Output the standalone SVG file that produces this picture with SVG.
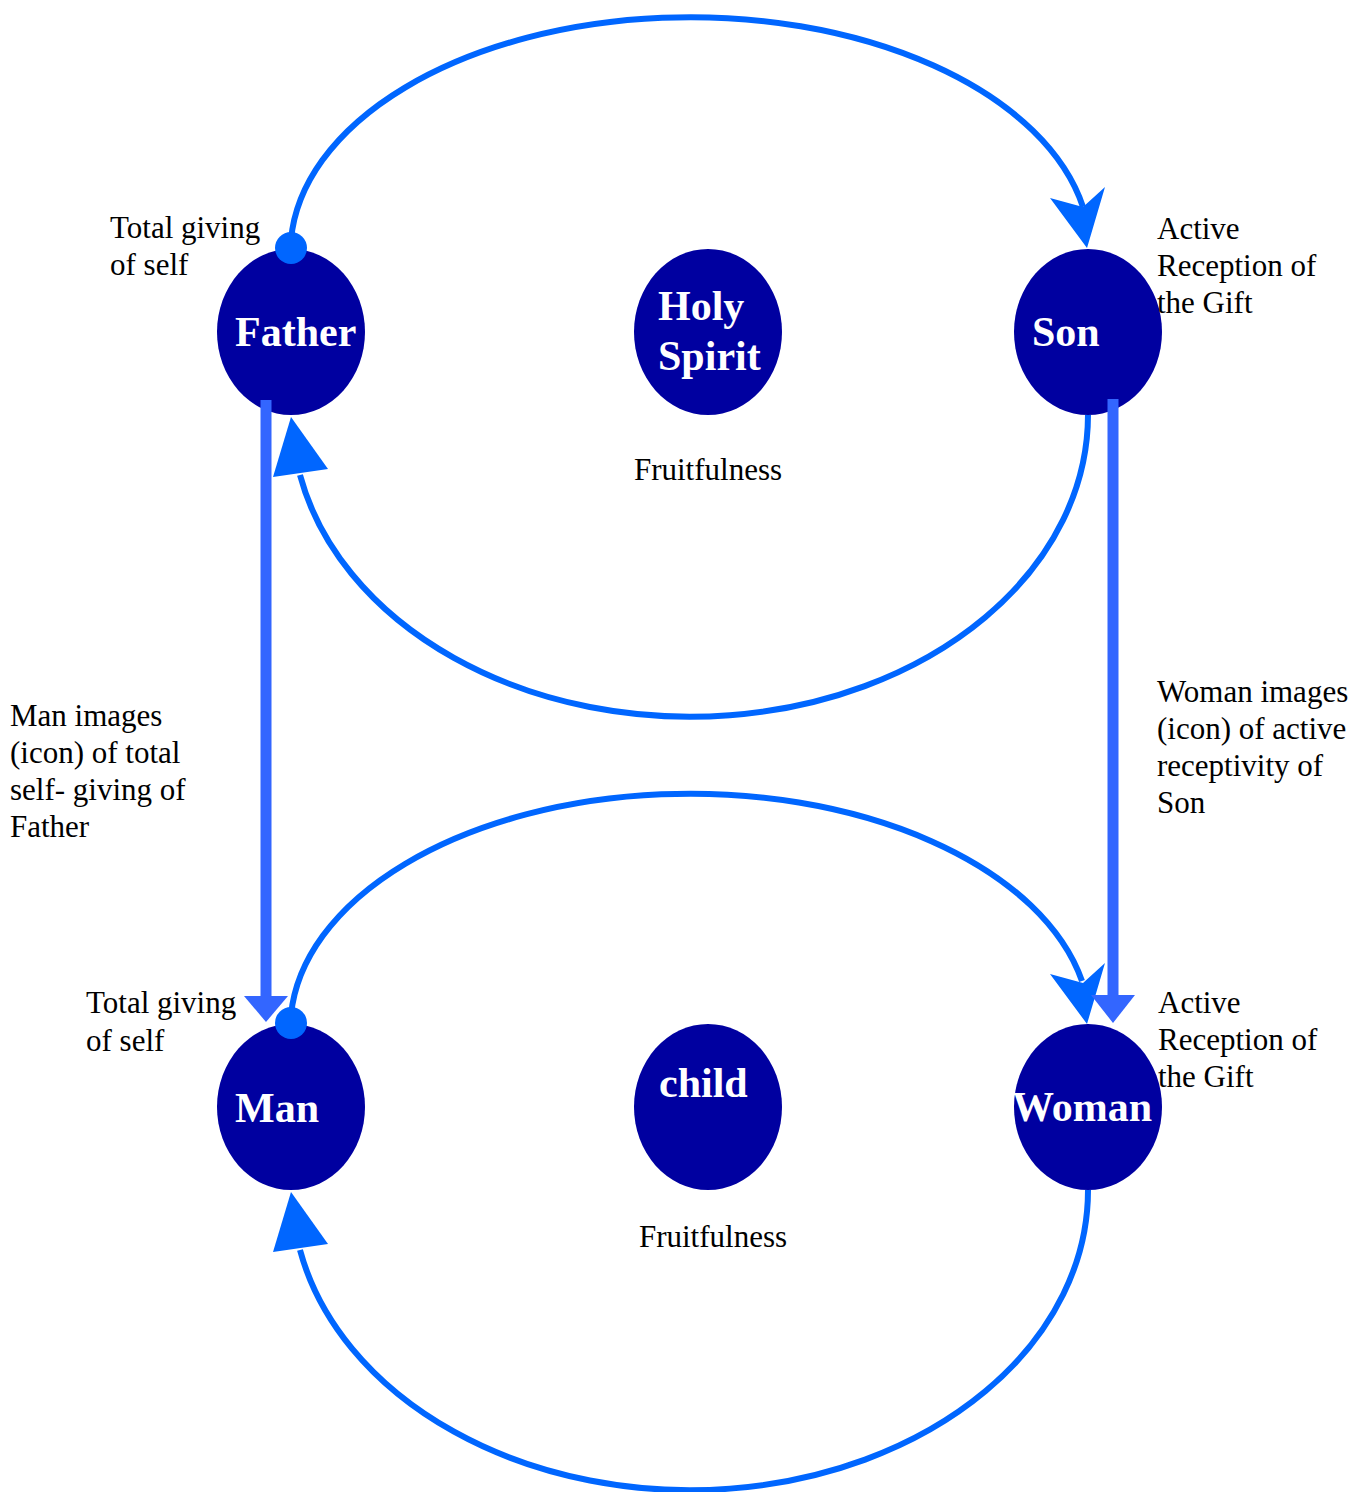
<svg xmlns="http://www.w3.org/2000/svg" width="1369" height="1492" viewBox="0 0 1369 1492">
<style>
.node{fill:#0000a0;stroke:none}
.nl{font-family:"Liberation Serif","Times New Roman",serif;font-weight:bold;font-size:42px;fill:#ffffff}
.lbl{font-family:"Liberation Serif","Times New Roman",serif;font-size:31px;fill:#000000}
.loop{fill:none;stroke:#0066ff;stroke-width:6}
.loophead{fill:#0066ff;stroke:none}
.img{fill:none;stroke:#3366ff;stroke-width:11}
.imghead{fill:#3366ff;stroke:none}
</style>
<rect width="1369" height="1492" fill="#ffffff"/>
<g id="father"><ellipse class="node" cx="291" cy="332" rx="74" ry="83"/><text class="nl" x="235" y="346">Father</text></g>
<g id="holyspirit"><ellipse class="node" cx="708" cy="332" rx="74" ry="83"/><text class="nl" x="658" y="320">Holy</text><text class="nl" x="658" y="370">Spirit</text></g>
<g id="son"><ellipse class="node" cx="1088" cy="332" rx="74" ry="83"/><text class="nl" x="1032" y="346">Son</text></g>
<g id="man"><ellipse class="node" cx="291" cy="1107" rx="74" ry="83"/><text class="nl" x="235" y="1122">Man</text></g>
<g id="child"><ellipse class="node" cx="708" cy="1107" rx="74" ry="83"/><text class="nl" x="659" y="1097">child</text></g>
<g id="woman"><ellipse class="node" cx="1088" cy="1107" rx="74" ry="83"/><text class="nl" x="1012" y="1121">Woman</text></g>
<g id="connectors">
  <path class="loop" d="M 291,240 A 400 235 0 0 1 1083,207"/>
  <circle class="loophead" cx="291" cy="248" r="16"/>
  <polygon class="loophead" points="1087,248 1050,198 1083,207 1105,187"/>
  <path class="loop" d="M 1088,415 A 398 302 0 0 1 300,475"/>
  <polygon class="loophead" points="291,417 273,477 328,469"/>
  <path class="loop" d="M 291,1015 A 400 235 0 0 1 1082,981"/>
  <circle class="loophead" cx="291" cy="1023" r="16"/>
  <polygon class="loophead" points="1087,1024 1050,974 1083,983 1105,963"/>
  <path class="loop" d="M 1088,1190 A 398 300 0 0 1 300,1250"/>
  <polygon class="loophead" points="291,1192 273,1252 328,1244"/>
  <line class="img" x1="266" y1="400" x2="266" y2="997"/>
  <polygon class="imghead" points="244,996 288,996 266,1022"/>
  <line class="img" x1="1113" y1="399" x2="1113" y2="996"/>
  <polygon class="imghead" points="1091,995 1135,995 1113,1023"/>
</g>
<g id="labels">
  <text class="lbl" x="110" y="238">Total giving</text>
  <text class="lbl" x="110" y="275">of self</text>
  <text class="lbl" x="1157" y="239">Active</text>
  <text class="lbl" x="1157" y="276">Reception of</text>
  <text class="lbl" x="1157" y="313">the Gift</text>
  <text class="lbl" x="708" y="480" text-anchor="middle">Fruitfulness</text>
  <text class="lbl" x="10" y="726">Man images</text>
  <text class="lbl" x="10" y="763">(icon) of total</text>
  <text class="lbl" x="10" y="800">self- giving of</text>
  <text class="lbl" x="10" y="837">Father</text>
  <text class="lbl" x="1157" y="702">Woman images</text>
  <text class="lbl" x="1157" y="739">(icon) of active</text>
  <text class="lbl" x="1157" y="776">receptivity of</text>
  <text class="lbl" x="1157" y="813">Son</text>
  <text class="lbl" x="86" y="1013">Total giving</text>
  <text class="lbl" x="86" y="1051">of self</text>
  <text class="lbl" x="1158" y="1013">Active</text>
  <text class="lbl" x="1158" y="1050">Reception of</text>
  <text class="lbl" x="1158" y="1087">the Gift</text>
  <text class="lbl" x="713" y="1247" text-anchor="middle">Fruitfulness</text>
</g>
</svg>
